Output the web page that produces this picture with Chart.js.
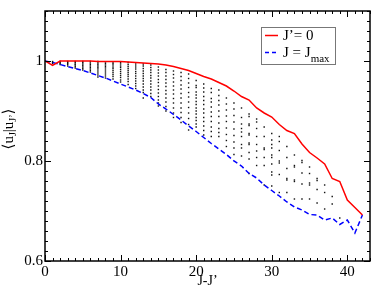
<!DOCTYPE html>
<html>
<head>
<meta charset="utf-8">
<script src="https://cdn.jsdelivr.net/npm/chart.js@4/dist/chart.umd.min.js"></script>
<style>
  html, body { margin: 0; padding: 0; background: #fff; }
  #wrap { width: 374px; height: 290px; }
</style>
</head>
<body>
<div id="wrap"><canvas id="c"></canvas></div>
<script>
// J - J' values
const jDiff = [0,1,2,3,4,5,6,7,8,9,10,11,12,13,14,15,16,17,18,19,20,
  21,22,23,24,25,26,27,28,29,30,31,32,33,34,35,36,37,38,39,40,41,42];

// overlap for J' = 0
const overlapJp0 = [1.0,0.991,1.0,1.0,1.0,1.0,1.0,0.999,0.999,0.999,0.999,
  0.998,0.997,0.996,0.995,0.994,0.992,0.989,0.985,0.981,0.975,
  0.969,0.964,0.957,0.950,0.940,0.929,0.922,0.906,0.896,0.888,
  0.873,0.861,0.855,0.834,0.817,0.806,0.794,0.765,0.759,0.722,0.707,0.692];

// overlap for J = Jmax
const overlapJmax = [1.0,0.997,0.993,0.989,0.985,0.981,0.976,0.971,0.966,0.960,0.954,
  0.948,0.942,0.935,0.927,0.914,0.904,0.893,0.882,0.870,0.859,
  0.847,0.835,0.824,0.813,0.800,0.790,0.775,0.766,0.752,0.741,
  0.730,0.718,0.708,0.702,0.693,0.692,0.682,0.686,0.673,0.682,0.656,0.692];

// all other (J, J') pairs, one column per J - J'
const overlapCols = [
  [],
  [0.999,0.997,0.995],
  [0.999,0.997,0.995,0.993],
  [0.999,0.997,0.995,0.993,0.990],
  [0.999,0.997,0.994,0.992,0.989,0.986],
  [0.999,0.997,0.994,0.991,0.988,0.985,0.982],
  [0.999,0.996,0.993,0.990,0.987,0.984,0.981,0.978],
  [0.999,0.996,0.993,0.990,0.987,0.984,0.980,0.976,0.972,0.968],
  [0.998,0.995,0.992,0.989,0.986,0.982,0.978,0.974,0.970,0.966],
  [0.998,0.995,0.992,0.988,0.985,0.981,0.977,0.973,0.969,0.964],
  [0.997,0.994,0.990,0.987,0.983,0.979,0.975,0.971,0.967,0.962,0.958],
  [0.997,0.993,0.989,0.985,0.981,0.977,0.973,0.969,0.964,0.959,0.953],
  [0.996,0.992,0.988,0.984,0.979,0.975,0.970,0.965,0.960,0.955,0.950,0.945],
  [0.994,0.990,0.985,0.980,0.975,0.970,0.965,0.960,0.954,0.948,0.942,0.937,0.926],
  [0.992,0.987,0.982,0.977,0.971,0.966,0.960,0.954,0.948,0.942,0.935,0.929],
  [0.988,0.982,0.976,0.970,0.963,0.957,0.950,0.943,0.936,0.929,0.922,0.916,0.910],
  [0.983,0.977,0.970,0.963,0.956,0.949,0.941,0.934,0.926,0.918,0.909,0.900],
  [0.980,0.973,0.966,0.958,0.950,0.942,0.934,0.925,0.916,0.906,0.896,0.887],
  [0.977,0.969,0.961,0.952,0.944,0.935,0.926,0.916,0.906,0.897,0.887,0.877],
  [0.974,0.965,0.956,0.947,0.937,0.928,0.918,0.907,0.896,0.885,0.873,0.862],
  [0.961,0.951,0.947,0.938,0.932,0.926,0.919,0.913,0.906,0.900,0.894,0.887,0.881,0.874,0.868],
  [0.954,0.946,0.938,0.929,0.921,0.913,0.904,0.896,0.887,0.879,0.870,0.861,0.852],
  [0.945,0.937,0.925,0.918,0.908,0.898,0.889,0.879,0.868,0.859,0.849],
  [0.942,0.931,0.921,0.912,0.900,0.889,0.876,0.865,0.857,0.849],
  [0.926,0.914,0.902,0.890,0.879,0.866,0.853,0.841,0.829],
  [0.916,0.904,0.891,0.878,0.864,0.851,0.838,0.826,0.813],
  [0.906,0.887,0.874,0.865,0.858,0.849,0.833,0.826,0.810],
  [0.894,0.889,0.874,0.871,0.855,0.852,0.836,0.833,0.817,0.804,0.775],
  [0.884,0.878,0.865,0.849,0.833,0.820,0.807,0.791],
  [0.868,0.849,0.826,0.823,0.807,0.791,0.752],
  [0.855,0.842,0.833,0.826,0.812,0.807,0.794,0.778,0.772,0.750],
  [0.849,0.839,0.821,0.800,0.796,0.773,0.737],
  [0.829,0.807,0.785,0.765,0.762,0.737],
  [0.812,0.791,0.788,0.762,0.759,0.724],
  [0.801,0.797,0.776,0.754,0.724],
  [0.788,0.775,0.756,0.752,0.724],
  [0.765,0.761,0.743,0.716],
  [0.752,0.737,0.704],
  [0.729,0.714],
  [0.686],
  [],
  [],
  []
];

const xTickLabels = [0, 10, 20, 30, 40];
const yTickLabels = [0.6, 0.8, 1.0];

const serif = "'Liberation Serif', 'DejaVu Serif', serif";

const dots = [];
overlapCols.forEach((col, d) => col.forEach(v => dots.push({ x: jDiff[d], y: v })));

// frame with inward ticks on all four sides
const frameTicks = {
  id: 'frameTicks',
  afterDatasetsDraw(chart) {
    const { ctx, chartArea: a, scales: { x, y } } = chart;
    ctx.save();
    ctx.strokeStyle = '#000';
    ctx.lineWidth = 1;
    ctx.beginPath();
    for (let v = 0; v <= 43; v++) {
      const px = Math.round(x.getPixelForValue(v)) + 0.5;
      const len = v % 10 === 0 ? 6 : 3;
      ctx.moveTo(px, a.bottom); ctx.lineTo(px, a.bottom - len);
      ctx.moveTo(px, a.top); ctx.lineTo(px, a.top + len);
    }
    for (let i = 0; i <= 25; i++) {
      const py = Math.round(y.getPixelForValue(0.6 + i * 0.02)) + 0.5;
      const len = i % 10 === 0 ? 6 : 3;
      ctx.moveTo(a.left, py); ctx.lineTo(a.left + len, py);
      ctx.moveTo(a.right, py); ctx.lineTo(a.right - len, py);
    }
    ctx.stroke();
    ctx.lineWidth = 1.5;
    ctx.strokeRect(a.left, a.top, a.right - a.left, a.bottom - a.top);
    ctx.restore();
  }
};

// legend box (needs a subscript, so drawn by hand)
const legendBox = {
  id: 'legendBox',
  afterDraw(chart) {
    const ctx = chart.ctx;
    ctx.save();
    ctx.fillStyle = '#fff';
    ctx.fillRect(261, 27, 74, 37);
    ctx.strokeStyle = '#777';
    ctx.lineWidth = 1;
    ctx.strokeRect(261.5, 27.5, 74, 37);
    ctx.lineWidth = 1.5;
    ctx.strokeStyle = '#ff0000';
    ctx.beginPath(); ctx.moveTo(265, 35.5); ctx.lineTo(278, 35.5); ctx.stroke();
    ctx.strokeStyle = '#0000ff';
    ctx.setLineDash([4, 3]);
    ctx.beginPath(); ctx.moveTo(265, 52.5); ctx.lineTo(279, 52.5); ctx.stroke();
    ctx.setLineDash([]);
    ctx.fillStyle = '#000';
    ctx.textBaseline = 'alphabetic';
    ctx.font = '15px ' + serif;
    ctx.fillText('J’= 0', 283, 40);
    ctx.fillText('J = J', 283, 57);
    const w = ctx.measureText('J = J').width;
    ctx.font = '11px ' + serif;
    ctx.fillText('max', 283 + w, 62);
    ctx.restore();
  }
};

// rotated y title with subscripts
const yTitle = {
  id: 'yTitle',
  afterDraw(chart) {
    const ctx = chart.ctx;
    const parts = [['⟨u', 15, 0], ['J', 10, 3], ['|u', 15, 0], ['J’', 10, 3], ['⟩', 15, 0]];
    ctx.save();
    ctx.fillStyle = '#000';
    ctx.textBaseline = 'alphabetic';
    let total = 0;
    parts.forEach(p => { ctx.font = p[1] + 'px ' + serif; total += ctx.measureText(p[0]).width; });
    ctx.translate(13, 129);
    ctx.rotate(-Math.PI / 2);
    let cx = -total / 2;
    parts.forEach(p => {
      ctx.font = p[1] + 'px ' + serif;
      ctx.fillText(p[0], cx, p[2]);
      cx += ctx.measureText(p[0]).width;
    });
    ctx.restore();
  }
};

new Chart(document.getElementById('c'), {
  type: 'scatter',
  data: {
    datasets: [
      {
        label: 'J’= 0',
        data: jDiff.map((d, i) => ({ x: d, y: overlapJp0[i] })),
        showLine: true,
        borderColor: '#ff0000',
        borderWidth: 1.5,
        pointRadius: 0,
        order: 1
      },
      {
        label: 'J = Jmax',
        data: jDiff.map((d, i) => ({ x: d, y: overlapJmax[i] })),
        showLine: true,
        borderColor: '#0000ff',
        borderWidth: 1.5,
        borderDash: [5, 3],
        pointRadius: 0,
        order: 2
      },
      {
        label: 'others',
        data: dots,
        pointStyle: 'rect',
        pointRadius: 1,
        backgroundColor: '#111',
        borderWidth: 0,
        order: 3
      }
    ]
  },
  options: {
    responsive: true,
    maintainAspectRatio: false,
    animation: false,
    layout: { padding: { top: 1, right: 2, left: 0, bottom: 0 } },
    plugins: { legend: { display: false }, tooltip: { enabled: false } },
    scales: {
      x: {
        type: 'linear', min: 0, max: 43,
        grid: { display: false, drawTicks: false },
        border: { display: false },
        afterBuildTicks: s => { s.ticks = xTickLabels.map(v => ({ value: v })); },
        afterFit: s => { s.height = 29; },
        ticks: { font: { family: serif, size: 15 }, color: '#000', padding: 2, maxRotation: 0, autoSkip: false },
        title: { display: true, text: 'J-J’', font: { family: serif, size: 14 }, color: '#000', padding: 0 }
      },
      y: {
        type: 'linear', min: 0.6, max: 1.1,
        grid: { display: false, drawTicks: false },
        border: { display: false },
        afterBuildTicks: s => { s.ticks = yTickLabels.map(v => ({ value: v })); },
        afterFit: s => { s.width = 45; },
        ticks: {
          font: { family: serif, size: 15 }, color: '#000', padding: 2,
          callback: v => (v === 1 ? '1' : v.toFixed(1))
        }
      }
    }
  },
  plugins: [frameTicks, legendBox, yTitle]
});
</script>
</body>
</html>
